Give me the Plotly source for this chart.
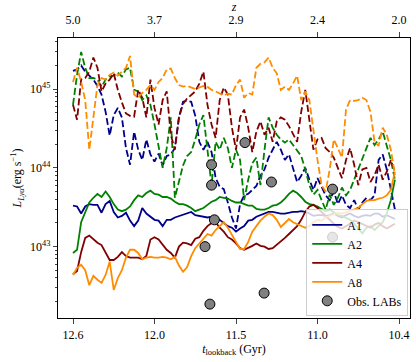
import numpy as np
import plotly.graph_objects as go

# x coordinate: snapshot index (ticks labelled with lookback time / redshift)
tick_snap = [0, 20, 40, 60, 80]
tick_tlb = ['12.6', '12.0', '11.5', '11.0', '10.4']
tick_z = ['5.0', '3.7', '2.9', '2.4', '2.0']

# log10 L_Lya [erg/s], one value per snapshot
a1_solid = [43.52,43.51,43.42,43.51,43.54,43.53,43.53,43.43,43.54,43.58,43.44,43.37,43.39,43.43,43.33,43.26,43.33,43.49,43.42,43.38,
            43.34,43.33,43.26,43.34,43.34,43.37,43.39,43.40,43.42,43.44,43.40,43.39,43.38,43.37,43.38,43.34,43.34,43.30,43.26,43.24,
            43.19,43.23,43.26,43.33,43.34,43.38,43.40,43.42,43.44,43.44,43.43,43.42,43.42,43.43,43.44,43.44,43.45,43.44,43.42,43.39,
            43.40,43.40,43.39,43.40,43.42,43.39,43.37,43.40,43.42,43.39,43.37,43.39,43.40,43.39,43.42,43.42,43.38,43.40,43.37,43.35]
a2_solid = [42.92,42.96,43.31,43.43,43.56,43.62,43.67,43.63,43.70,43.63,43.54,43.47,43.45,43.47,43.51,43.59,43.65,43.63,43.68,43.71,
            43.67,43.66,43.63,43.63,43.61,43.57,43.54,43.54,43.52,43.49,43.45,43.47,43.49,43.53,43.57,43.59,43.63,43.62,43.61,43.58,
            43.56,43.56,43.54,43.52,43.52,43.48,43.47,43.47,43.49,43.52,43.53,43.56,43.61,43.67,43.71,43.68,43.63,43.57,43.54,43.53,
            43.51,43.48,43.45,43.47,43.44,43.40,43.39,43.37,43.34,43.29,43.23,43.17,43.24,43.26,43.21,43.26,43.31,43.42,43.59,43.85]
a4_solid = [42.65,42.69,42.93,43.11,43.14,43.09,43.05,43.02,42.92,42.83,42.83,42.87,42.93,42.88,42.86,42.86,42.86,42.84,42.88,43.09,
            43.12,43.09,43.02,42.96,42.92,42.86,43.00,43.05,43.04,43.02,43.10,43.12,43.20,43.26,43.30,43.31,43.24,43.19,43.12,43.09,
            43.04,42.98,42.96,42.98,43.01,43.04,43.01,43.00,42.97,42.98,43.02,43.06,43.11,43.16,43.21,43.26,43.34,43.44,43.51,43.53,
            43.49,43.44,43.39,43.33,43.29,43.25,43.23,43.26,43.30,43.33,43.31,43.29,43.26,43.24,43.28,43.30,43.26,43.23,43.26,43.29]
a8_solid = [42.64,42.73,42.77,42.70,42.51,42.63,42.58,42.54,42.64,42.81,42.45,42.60,42.70,42.86,42.96,42.96,42.92,42.84,42.86,42.87,
            42.86,42.86,42.87,42.86,42.84,42.87,42.76,42.68,42.74,42.88,42.98,43.04,43.09,43.16,43.14,43.21,43.26,43.31,43.24,43.14,
            43.06,42.97,42.97,43.06,43.19,43.26,43.33,43.38,43.42,43.40,43.34,43.25,43.30,43.35,43.31,43.29,43.26,43.24,43.26,43.31,
            43.34,43.33,43.37,43.39,43.40,43.43,43.42,43.44,43.45,43.47,43.49,43.54,43.58,43.59,43.59,43.61,43.62,43.65,43.72,43.95]
a1_dash = [45.23,45.25,45.30,45.22,45.17,45.12,45.04,44.93,44.71,44.41,44.67,44.76,44.64,44.25,44.04,44.46,44.23,44.10,44.36,44.17,
           44.08,44.18,44.03,44.15,44.17,44.25,44.64,44.84,44.85,44.84,44.66,44.33,44.23,44.33,44.20,43.87,43.76,43.73,43.56,43.37,
           43.23,43.54,43.65,43.67,43.72,43.77,43.90,43.98,44.13,44.23,44.33,44.23,44.10,44.17,43.98,43.82,43.90,44.00,43.85,43.72,
           43.87,43.77,43.65,43.59,43.70,43.54,43.65,43.53,43.49,43.59,43.47,43.56,43.62,43.59,43.65,44.10,44.17,43.98,43.72,43.47]
a2_dash = [44.80,45.18,45.47,45.27,45.14,45.14,45.12,45.03,45.12,45.16,45.17,45.21,45.16,45.25,45.27,44.99,44.97,44.86,44.92,44.80,
           44.55,44.29,44.00,44.25,44.64,43.62,43.82,44.03,44.15,44.20,44.36,44.55,44.67,44.23,43.78,44.33,44.23,44.38,44.25,44.00,
           44.23,44.10,43.59,43.85,44.06,44.13,43.78,44.23,44.64,44.51,44.42,44.36,44.32,44.36,44.29,44.23,44.15,43.98,43.78,43.66,
           43.72,43.59,43.47,43.66,43.53,43.62,43.75,43.65,43.72,43.85,43.98,44.10,44.25,44.38,44.29,44.36,44.46,44.29,44.10,43.85]
a4_dash = [44.80,44.61,45.12,45.14,45.22,45.40,45.27,44.97,45.07,45.12,45.20,44.99,44.83,44.69,44.66,44.65,44.99,44.89,44.64,45.12,
           44.76,44.55,44.86,44.97,44.42,44.23,44.64,44.81,44.88,44.92,44.97,45.07,45.22,44.80,44.55,44.38,44.86,45.02,44.93,44.51,
           44.23,44.64,44.74,44.51,44.20,44.46,44.59,44.42,44.51,44.33,44.59,44.64,44.61,44.53,44.43,44.33,44.71,44.99,44.61,44.23,
           44.36,44.38,44.25,44.20,44.13,44.00,43.87,44.10,44.25,44.04,43.78,43.98,44.00,43.82,43.91,44.04,43.85,43.95,44.10,43.95]
a8_dash = [45.09,45.27,45.09,44.86,44.23,44.67,45.05,45.14,45.12,45.18,45.21,45.17,45.22,45.27,45.42,44.93,44.89,44.95,44.99,45.05,
           44.99,45.09,45.14,45.25,45.26,45.14,45.05,45.03,45.04,45.02,45.00,45.02,45.04,45.03,44.99,44.97,44.94,44.92,44.94,44.93,
           45.05,45.12,44.89,44.95,44.93,45.27,45.32,45.34,45.40,45.27,45.20,44.99,45.03,44.99,45.07,45.17,44.86,44.97,44.86,44.46,
           44.10,43.78,43.70,43.98,44.36,44.25,44.13,44.74,44.86,44.85,44.86,44.89,44.86,44.71,44.33,44.28,44.51,44.42,44.23,43.91]

# observed Lya blobs
obs_snap = [42.2, 34.0, 34.0, 34.7, 32.4, 33.6, 46.9, 48.7, 63.7, 63.7]
obs_logL = [44.32, 44.04, 43.78, 43.34, 43.00, 42.27, 42.41, 43.82, 43.73, 43.12]

names = ['A1', 'A2', 'A4', 'A8']
colors = ['#00008b', '#008000', '#800000', '#ff8c00']
solids = [a1_solid, a2_solid, a4_solid, a8_solid]
dashes = [a1_dash, a2_dash, a4_dash, a8_dash]

FONT = 'Liberation Serif, DejaVu Serif, serif'
fig = go.Figure()
for name, col, sol, das in zip(names, colors, solids, dashes):
    fig.add_trace(go.Scatter(x=np.arange(len(das)), y=10 ** np.array(das), mode='lines',
                             line=dict(color=col, width=1.8, dash='7px,3px'), showlegend=False))
    fig.add_trace(go.Scatter(x=np.arange(len(sol)), y=10 ** np.array(sol), mode='lines', name=name,
                             line=dict(color=col, width=1.8)))
fig.add_trace(go.Scatter(x=obs_snap, y=10 ** np.array(obs_logL), mode='markers', name='Obs. LABs',
                         marker=dict(color='#808080', size=10, line=dict(color='black', width=1))))
# top axis carrier (invisible)
fig.add_trace(go.Scatter(x=tick_snap, y=[None] * len(tick_snap), xaxis='x2', showlegend=False,
                         hoverinfo='skip', mode='lines'))

xr = [-3.68, 82.7]
minor_vals = [m * 10.0 ** e for e in (42, 43, 44, 45) for m in range(2, 10)]
fig.update_layout(
    width=416, height=362,
    margin=dict(l=58, r=6, t=38, b=44),
    paper_bgcolor='white', plot_bgcolor='white',
    font=dict(family=FONT, size=12, color='black'),
    xaxis=dict(range=xr, tickmode='array', tickvals=tick_snap, ticktext=tick_tlb, automargin=False,
               ticks='outside', ticklen=5, tickwidth=1, showgrid=False, zeroline=False,
               showline=True, linecolor='black', linewidth=1.3, mirror=True,
               title=dict(text='<i>t</i><sub>lookback</sub> (Gyr)', standoff=2, font=dict(size=12))),
    xaxis2=dict(range=xr, overlaying='x', side='top', tickmode='array', tickvals=tick_snap, ticktext=tick_z,
                automargin=False, ticks='outside', ticklen=5, tickwidth=1, showgrid=False, zeroline=False,
                ticklabelstandoff=3,
                showline=False, title=dict(text='<i>z</i>', standoff=3, font=dict(size=12))),
    yaxis=dict(type='log', range=[42.094, 45.648], tickmode='array', tickvals=[1e43, 1e44, 1e45],
               ticktext=['10<sup>43</sup>', '10<sup>44</sup>', '10<sup>45</sup>'], automargin=False,
               ticks='outside', ticklen=4, tickwidth=1, showgrid=False, zeroline=False,
               showline=True, linecolor='black', linewidth=1.3, mirror=True,
               minor=dict(tickmode='array', tickvals=minor_vals, ticks='outside', ticklen=2, tickwidth=0.8, showgrid=False),
               title=dict(text='<i>L</i><sub><i>Ly\u03b1</i></sub>(erg s<sup>\u22121</sup>)', standoff=5, font=dict(size=12))),
    legend=dict(x=0.995, xanchor='right', y=0.006, yanchor='bottom', bgcolor='rgba(255,255,255,0.8)',
                bordercolor='#cccccc', borderwidth=1, font=dict(family=FONT, size=12), tracegroupgap=0),
    showlegend=True,
)
fig.write_html('out.html', config={'displayModeBar': False},
               post_script="document.body.style.margin='0';")
